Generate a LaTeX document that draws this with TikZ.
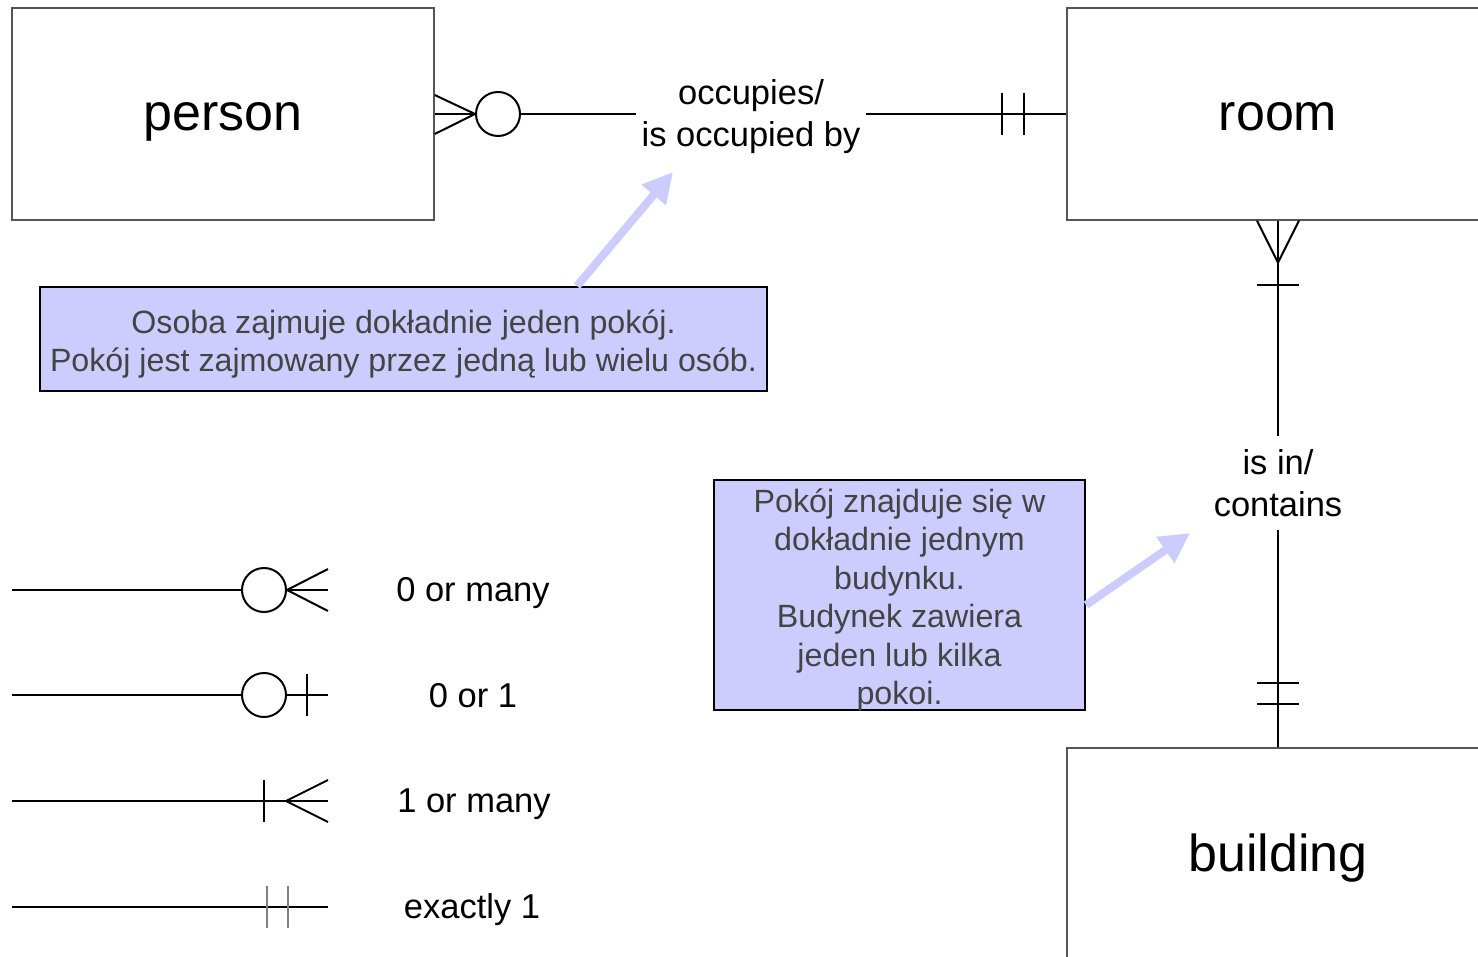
\documentclass[tikz,border=0pt]{standalone}
\usepackage{fontspec}
\setmainfont{Liberation Sans}
\usetikzlibrary{arrows.meta,calc}
\definecolor{notefill}{HTML}{CCCCFF}
\definecolor{notetext}{HTML}{444444}
\definecolor{boxline}{HTML}{555555}
% centred block of lines, lowered slightly inside its box (zero-size box so the
% node centres on the baseline; the tabular itself sits on the math axis)
\newcommand{\notelines}[1]{\raisebox{-12pt}[0pt][0pt]{\begin{tabular}{@{}c@{}}#1\end{tabular}}}
\tikzset{
  entity/.style={draw=boxline, line width=1.4pt, rectangle, minimum width=422pt,
    minimum height=212pt, inner sep=0pt, text height=34pt, text depth=0pt,
    font=\fontsize{52}{60}\selectfont},
  relation/.style={inner sep=0pt, align=center, font=\fontsize{34.5}{42}\selectfont},
  legendlabel/.style={inner sep=0pt, font=\fontsize{34.5}{42}\selectfont},
  note/.style={draw=black, line width=2pt, fill=notefill, rectangle, inner sep=0pt,
    text=notetext, font=\fontsize{32.2}{38.4}\selectfont},
  conn/.style={draw=black, line width=2pt},
  thinconn/.style={draw=black, line width=1.2pt},
  thintick/.style={draw=gray, line width=1.4pt},
  zero/.style={circle, draw=black, line width=2pt, minimum size=44pt, inner sep=0pt},
  pointer/.style={draw=notefill, line width=8pt, -{Triangle[length=30pt,width=30pt]}},
}
\begin{document}
\begin{tikzpicture}[x=1pt,y=-1pt]
  \clip (0,0) rectangle (1478,957);
  \fill[white] (0,0) rectangle (1478,957);

  % entities
  \node[entity] (person) at (223,114) {person};
  \node[entity] (room) at (1278,114) {room};
  \node[entity] (building) at (1278,854) {building};

  % relationship labels
  \node[relation, minimum width=230pt] (rel1) at (751,117) {occupies/\\is occupied by};
  \node[relation, minimum height=94pt] (rel2) at (1278,483) {is in/\\contains};

  % person -- room: zero or many / exactly one
  \node[zero] (c1) at (498,114) {};
  \draw[conn] ($(person.east)+(0,-19)$) -- (c1.west) -- ($(person.east)+(0,20)$);
  \draw[conn] (person.east) -- (c1.west);
  \draw[conn] (c1.east) -- (c1.east -| rel1.west);
  \draw[conn] (room.west -| rel1.east) -- (room.west);
  \draw[conn] ($(room.west)+(-64,-21)$) -- ($(room.west)+(-64,21)$);
  \draw[conn] ($(room.west)+(-42,-21)$) -- ($(room.west)+(-42,21)$);

  % room -- building: one or many / exactly one
  \coordinate (rf) at ($(room.south)+(0,42)$);
  \draw[conn] ($(room.south)+(-21,0)$) -- (rf) -- ($(room.south)+(21,0)$);
  \draw[conn] (room.south) -- (rel2.north);
  \draw[conn] ($(room.south)+(-21,64)$) -- ($(room.south)+(21,64)$);
  \draw[conn] (rel2.south) -- (building.north);
  \draw[conn] ($(building.north)+(-21,-64)$) -- ($(building.north)+(21,-64)$);
  \draw[conn] ($(building.north)+(-21,-43)$) -- ($(building.north)+(21,-43)$);

  % notes
  \node[note, minimum width=727pt, minimum height=104pt] (note1) at (403.5,339)
    {\notelines{Osoba zajmuje dokładnie jeden pokój.\\Pokój jest zajmowany przez jedną lub wielu osób.}};
  \node[note, minimum width=371pt, minimum height=230pt] (note2) at (899.5,595)
    {\notelines{Pokój znajduje się w\\dokładnie jednym\\budynku.\\Budynek zawiera\\jeden lub kilka\\pokoi.}};
  \coordinate (tip1) at (673,172);
  \coordinate (tip2) at (1190,533);
  \draw[pointer] ($(note1.north west)+(538,0)$) -- (tip1);
  \draw[pointer] ($(note2.south east)+(0,-106)$) -- (tip2);

  % legend: 0 or many
  \node[zero] (l1c) at (264,590) {};
  \coordinate (l1s) at (12,590);
  \coordinate (l1e) at (328,590);
  \draw[conn] (l1s) -- (l1c.west);
  \draw[conn] ($(l1e)+(0,-21)$) -- (l1c.east) -- ($(l1e)+(0,21)$);
  \draw[conn] (l1c.east) -- (l1e);
  \node[legendlabel] (lab1) at (473,593) {0 or many};

  % legend: 0 or 1
  \node[zero] (l2c) at (264,695) {};
  \coordinate (l2s) at (12,695);
  \coordinate (l2e) at (328,695);
  \draw[conn] (l2s) -- (l2c.west);
  \draw[conn] (l2c.east) -- (l2e);
  \draw[conn] ($(l2e)+(-21,-21)$) -- ($(l2e)+(-21,21)$);
  \node[legendlabel] (lab2) at (473,696) {0 or 1};

  % legend: 1 or many
  \coordinate (l3s) at (12,801);
  \coordinate (l3e) at (328,801);
  \coordinate (l3f) at (286,801);
  \draw[conn] (l3s) -- (l3e);
  \draw[conn] (264,780) -- (264,822);
  \draw[conn] ($(l3e)+(0,-21)$) -- (l3f) -- ($(l3e)+(0,21)$);
  \node[legendlabel] (lab3) at (474,804) {1 or many};

  % legend: exactly 1
  \coordinate (l4s) at (12,907);
  \coordinate (l4e) at (328,907);
  \draw[thinconn] (l4s) -- (l4e);
  \draw[thintick] (267,886) -- (267,928);
  \draw[thintick] (288,886) -- (288,928);
  \node[legendlabel] (lab4) at (472,910) {exactly 1};
\end{tikzpicture}
\end{document}
